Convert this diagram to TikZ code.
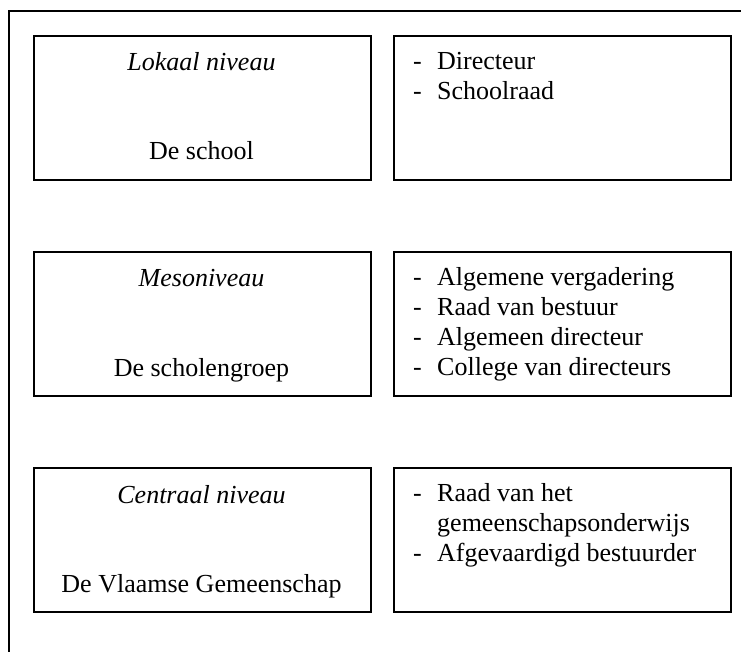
\documentclass[tikz,border=0pt]{standalone}
\usepackage{fontspec}
\setmainfont{Liberation Serif}
\begin{document}
\begin{tikzpicture}[x=1pt,y=-1pt,
  frameline/.style={line width=1.8pt,line cap=rect},
  lvlbox/.style={draw,line width=1.6pt,minimum width=337pt,minimum height=144pt,inner sep=0pt,anchor=north west},
  txt/.style={inner sep=0pt,anchor=base,font=\fontsize{26}{29.5}\selectfont},
  ltxt/.style={inner sep=0pt,anchor=base west,font=\fontsize{26}{29.5}\selectfont}]
\useasboundingbox (0,0) rectangle (741,652);
% outer frame (only top and left visible)
\coordinate (ftop) at (741,11);
\coordinate (fcorner) at (9,11);
\coordinate (fbot) at (9,652);
\draw[frameline] (ftop) -- (fcorner) -- (fbot);
% boxes
\node[lvlbox] (b1l) at (33,35) {};
\node[lvlbox] (b1r) at (393,35) {};
\node[lvlbox] (b2l) at (33,251) {};
\node[lvlbox] (b2r) at (393,251) {};
\node[lvlbox] (b3l) at (33,467) {};
\node[lvlbox] (b3r) at (393,467) {};
% level 1
\node[txt] (t1a) at (201.5,71) {\itshape Lokaal niveau};
\node[txt] (t1b) at (201.5,160) {De school};
\node[ltxt] (d1a) at (413,70) {-};
\node[ltxt] (l1a) at (437,70) {Directeur};
\node[ltxt] (d1b) at (413,99.5) {-};
\node[ltxt] (l1b) at (437,99.5) {Schoolraad};
% level 2
\node[txt] (t2a) at (201.5,287) {\itshape Mesoniveau};
\node[txt] (t2b) at (201.5,376) {De scholengroep};
\node[ltxt] (d2a) at (413,285) {-};
\node[ltxt] (l2a) at (437,285) {Algemene vergadering};
\node[ltxt] (d2b) at (413,315) {-};
\node[ltxt] (l2b) at (437,315) {Raad van bestuur};
\node[ltxt] (d2c) at (413,345) {-};
\node[ltxt] (l2c) at (437,345) {Algemeen directeur};
\node[ltxt] (d2d) at (413,375) {-};
\node[ltxt] (l2d) at (437,375) {College van directeurs};
% level 3
\node[txt] (t3a) at (201.5,503) {\itshape Centraal niveau};
\node[txt] (t3b) at (201.5,592) {De Vlaamse Gemeenschap};
\node[ltxt] (d3a) at (413,501) {-};
\node[ltxt] (l3a) at (437,501) {Raad van het};
\node[ltxt] (l3b) at (437,531) {gemeenschapsonderwijs};
\node[ltxt] (d3c) at (413,561) {-};
\node[ltxt] (l3c) at (437,561) {Afgevaardigd bestuurder};
\end{tikzpicture}
\end{document}
